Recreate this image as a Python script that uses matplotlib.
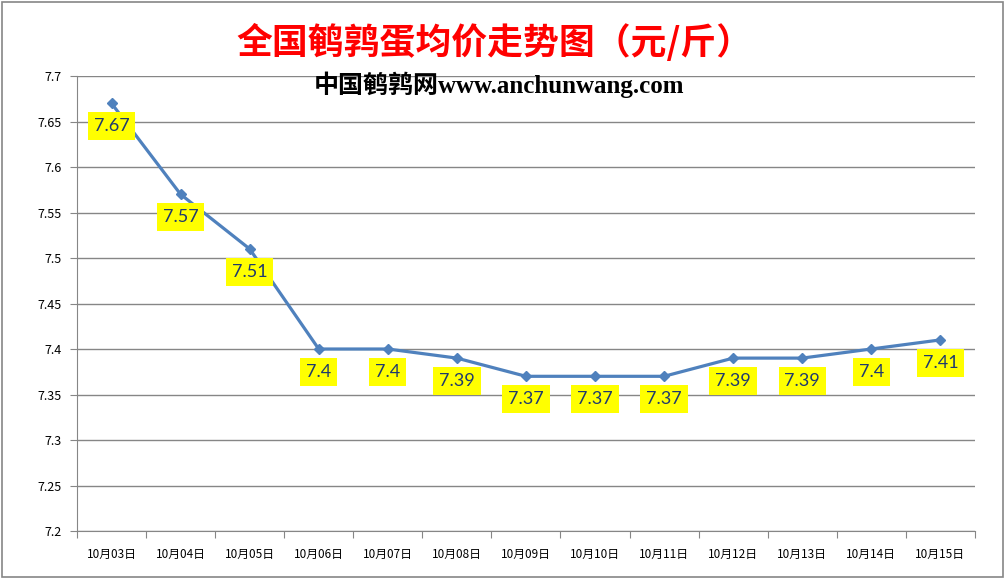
import matplotlib
matplotlib.use("Agg")
import matplotlib.pyplot as plt
from matplotlib.patches import Rectangle
from matplotlib.ticker import FixedLocator, FuncFormatter

plt.rcParams['font.family'] = ['Noto Sans CJK SC', 'DejaVu Sans']

dates = ["10月03日", "10月04日", "10月05日", "10月06日", "10月07日", "10月08日",
         "10月09日", "10月10日", "10月11日", "10月12日", "10月13日", "10月14日",
         "10月15日"]
prices = [7.67, 7.57, 7.51, 7.40, 7.40, 7.39, 7.37, 7.37, 7.37, 7.39, 7.39, 7.40, 7.41]
y_ticks = [7.2, 7.25, 7.3, 7.35, 7.4, 7.45, 7.5, 7.55, 7.6, 7.65, 7.7]

title = "全国鹌鹑蛋均价走势图（元/斤）"
subtitle = "中国鹌鹑网www.anchunwang.com"

fig = plt.figure(figsize=(10.05, 5.79), dpi=100)
ax = fig.add_axes([0.0766, 0.0829, 0.8934, 0.7858])

x = list(range(len(dates)))
ax.plot(x, prices, color='#4F81BD', linewidth=2.3, marker='D', markersize=5.5,
        zorder=3)

# data labels sit in yellow boxes just below each point
for xi, p in zip(x, prices):
    ax.annotate(f"{p:g}", (xi, p), xytext=(0, -16.5), textcoords='offset points',
                ha='center', va='center', fontsize=13, color='#1F3A6E',
                family=['Lato', 'DejaVu Sans'],
                bbox=dict(boxstyle='square,pad=0.32', fc='#FFFF00', ec='none'),
                zorder=4)

ax.set_xlim(-0.5, len(dates) - 0.5)
ax.set_ylim(7.2, 7.7)
ax.set_yticks(y_ticks)
ax.yaxis.set_major_formatter(FuncFormatter(lambda v, pos: f"{v:g}"))
ax.tick_params(axis='y', labelsize=9, length=5, color='#868686', pad=6)
ax.yaxis.grid(True, color='#868686', linewidth=1)
ax.set_axisbelow(True)

# ticks between categories, labels centred on categories
ax.xaxis.set_major_locator(FixedLocator([i - 0.5 for i in range(len(dates) + 1)]))
ax.xaxis.set_minor_locator(FixedLocator(x))
ax.set_xticklabels([])
ax.set_xticklabels(dates, minor=True)
ax.tick_params(axis='x', which='major', length=5, color='#868686')
ax.tick_params(axis='x', which='minor', length=0, labelsize=8.5, pad=12)

for side in ['top', 'right']:
    ax.spines[side].set_visible(False)
for side in ['left', 'bottom']:
    ax.spines[side].set_color('#868686')

fig.text(0.492, 1 - 43 / 579, title, ha='center', va='center', fontsize=25.8,
         color='#FF0000', fontweight='bold')
fig.text(0.497, 1 - 85 / 579, subtitle, ha='center', va='center', fontsize=18,
         color='black', fontweight='bold',
         family=['Liberation Serif', 'Noto Sans CJK SC'])

fig.patches.append(Rectangle((0.002, 0.003), 0.996, 0.994, transform=fig.transFigure,
                             fill=False, edgecolor='#868686', linewidth=1.2))

fig.savefig("out.png", dpi=100)
